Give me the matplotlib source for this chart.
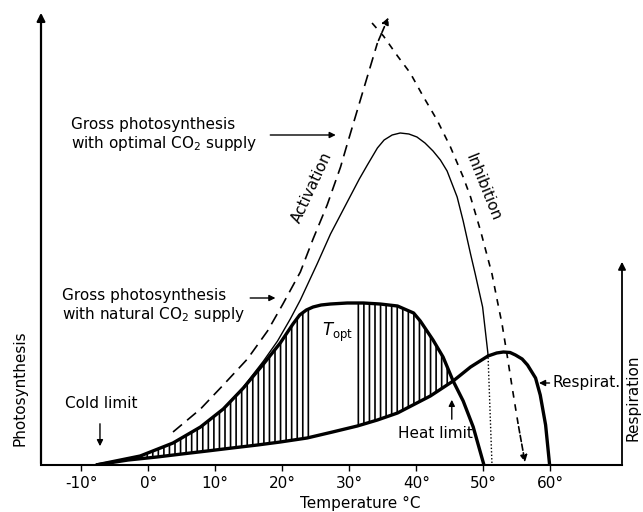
import numpy as np
import matplotlib.pyplot as plt

plt.rcParams['font.family'] = 'DejaVu Sans'
plt.rcParams['hatch.linewidth'] = 1.2

# curves: temperature (degC) and height above baseline
T_nat = [-7.8, -1.2, 3.7, 7.8, 11.2, 14.2, 17.2, 19.7, 21.6, 22.6, 23.6, 24.6, 25.8, 27.2, 29.7, 32.1, 34.6, 37.2, 39.6,
         40.6, 42.5, 44.0, 45.5, 47.0, 48.5, 50.1]
h_nat = [0, 9, 22, 38, 56, 77, 101, 122, 141, 150, 155, 158, 160, 161, 162, 162, 161, 159, 152,
         144, 125, 108, 84, 64, 38, 0]

T_opt = [-7.8, -1.2, 3.7, 7.8, 11.2, 14.2, 17.2, 19.3, 21.2, 22.7, 25.2, 27.2, 29.7, 31.5, 32.7, 34.2, 35.2, 36.4, 37.6,
         38.9, 40.1, 41.3, 42.5, 43.6, 44.6, 46.1, 47.0, 48.1, 48.8, 49.9, 50.7]
h_opt = [0, 9, 22, 38, 56, 78, 104, 124, 146, 165, 201, 231, 263, 286, 300, 317, 325, 330, 332,
         331, 328, 322, 314, 305, 294, 268, 244, 211, 191, 158, 111]

T_act = [3.7, 7.8, 11.2, 14.8, 17.8, 20.1, 22.7, 24.6, 26.7, 28.7, 29.7, 32.1, 34.2, 36.0]
h_act = [33, 56, 80, 106, 134, 161, 193, 226, 260, 298, 321, 375, 422, 450]

T_inh = [33.4, 35.1, 37.2, 39.1, 41.0, 43.1, 45.1, 47.0, 48.1, 49.6, 51.3, 52.1, 52.8, 53.6, 54.3, 55.2, 56.3]
h_inh = [442, 429, 409, 392, 369, 345, 318, 288, 268, 234, 191, 164, 141, 108, 78, 41, 0]

T_resp = [-7.8, -3.0, 1.3, 5.0, 8.8, 12.5, 16.3, 19.7, 23.7, 27.5, 31.2, 34.2, 37.2, 42.1, 45.5, 48.1, 50.7, 52.0, 53.0,
          54.0, 54.8, 55.8, 56.6, 57.8, 58.5, 59.3, 59.9]
h_resp = [0, 5, 8, 11, 14, 17, 20, 23, 27, 33, 39, 45, 52, 69, 84, 98, 109, 112, 113,
          112.5, 110, 106, 100, 87, 70, 40, 0]

T_dot = [50.7, 51.3]
h_dot = [111, 0]

T_cross = 45.5
topt_lo, topt_hi = 24.6, 31.2

ticks = [-10, 0, 10, 20, 30, 40, 50, 60]
tick_labels = ['-10°', '0°', '10°', '20°', '30°', '40°', '50°', '60°']

fig = plt.figure(figsize=(6.43, 5.12), dpi=100)
ax = fig.add_axes([41/643, 47/512, 581/643, 455/512])
ax.set_xlim(-16.0, 70.7)
ax.set_ylim(0, 455)

# hatched net photosynthesis region
Tn = np.array(T_nat); hn = np.array(h_nat)
Tr = np.array(T_resp); hr = np.array(h_resp)
mn = Tn <= T_cross
mr = Tr <= T_cross
px = np.concatenate([Tn[mn], Tr[mr][::-1]])
py = np.concatenate([hn[mn], hr[mr][::-1]])
ax.fill(px, py, facecolor='none', edgecolor='black', hatch='|||', linewidth=0, zorder=1)
ax.axvspan(topt_lo, topt_hi, color='white', zorder=2, lw=0)

ax.plot(T_nat, h_nat, color='black', lw=2.4, zorder=3, solid_capstyle='butt', solid_joinstyle='round')
ax.plot(T_resp, h_resp, color='black', lw=2.4, zorder=3, solid_capstyle='butt', solid_joinstyle='round')
ax.plot(T_opt, h_opt, color='black', lw=1.0, zorder=3)
ax.plot(T_dot, h_dot, color='black', lw=1.0, ls=(0, (1, 1.5)), zorder=3)
ax.plot(T_act[:-1], h_act[:-1], color='black', lw=1.2, ls=(0, (7, 4)), zorder=3)
ax.plot(T_inh[:-1], h_inh[:-1], color='black', lw=1.2, ls=(0, (4, 4)), zorder=3)
ax.annotate('', xy=(T_act[-1], h_act[-1]), xytext=(T_act[-2], h_act[-2]),
            arrowprops=dict(arrowstyle='-|>', color='black', lw=1.2, ls='--', mutation_scale=10), zorder=3)
ax.annotate('', xy=(T_inh[-1], h_inh[-1]), xytext=(T_inh[-2], h_inh[-2]),
            arrowprops=dict(arrowstyle='-|>', color='black', lw=1.2, ls='--', mutation_scale=10), zorder=3)

# axes with arrows
for s in ['left', 'right', 'top']:
    ax.spines[s].set_visible(False)
ax.spines['bottom'].set_linewidth(1.5)
ax.annotate('', xy=(0, 1), xytext=(0, -0.003), xycoords='axes fraction',
            arrowprops=dict(arrowstyle='-|>', color='black', lw=1.6, mutation_scale=12))
ax.annotate('', xy=(1, 206/455), xytext=(1, -0.003), xycoords='axes fraction',
            arrowprops=dict(arrowstyle='-|>', color='black', lw=1.3, mutation_scale=11))

ax.set_xticks(ticks)
ax.set_xticklabels(tick_labels, fontsize=11)
ax.set_yticks([])
ax.tick_params(axis='x', direction='out', length=4, width=1, pad=4)
ax.set_xlabel('Temperature °C', fontsize=11, labelpad=1)
ax.xaxis.set_label_coords(0.55, -0.067)

arr = dict(arrowstyle='-|>', color='black', lw=1.0, mutation_scale=9)
fs = 11
ax.text(-11.5, 330, 'Gross photosynthesis\nwith optimal CO$_2$ supply', fontsize=fs,
        va='center', ha='left', linespacing=1.1)
ax.annotate('', xy=(28.4, 330), xytext=(17.8, 330), arrowprops=arr)
ax.text(-12.8, 159, 'Gross photosynthesis\nwith natural CO$_2$ supply', fontsize=fs,
        va='center', ha='left', linespacing=1.1)
ax.annotate('', xy=(19.4, 167), xytext=(14.8, 167), arrowprops=arr)
ax.text(-12.4, 61, 'Cold limit', fontsize=fs, va='center', ha='left')
ax.annotate('', xy=(-7.2, 16), xytext=(-7.2, 44), arrowprops=arr)
ax.text(37.3, 32, 'Heat limit', fontsize=fs, va='center', ha='left')
ax.annotate('', xy=(45.3, 68), xytext=(45.3, 43), arrowprops=arr)
ax.text(60.3, 82, 'Respirat.', fontsize=fs, va='center', ha='left')
ax.annotate('', xy=(57.9, 82), xytext=(60.3, 82), arrowprops=arr)
ax.text(26.0, 133, '$T_{\\rm opt}$', fontsize=12, va='center', ha='left', zorder=4)
ax.text(24.5, 278, 'Activation', fontsize=fs, rotation=65, va='center', ha='center')
ax.text(50.0, 278, 'Inhibition', fontsize=fs, rotation=-68, va='center', ha='center')

fig.text(20/643, 1 - 388/512, 'Photosynthesis', fontsize=fs, rotation=90, va='center', ha='center')
fig.text(633/643, 1 - 398/512, 'Respiration', fontsize=fs, rotation=90, va='center', ha='center')

fig.savefig('out.png', dpi=100)
